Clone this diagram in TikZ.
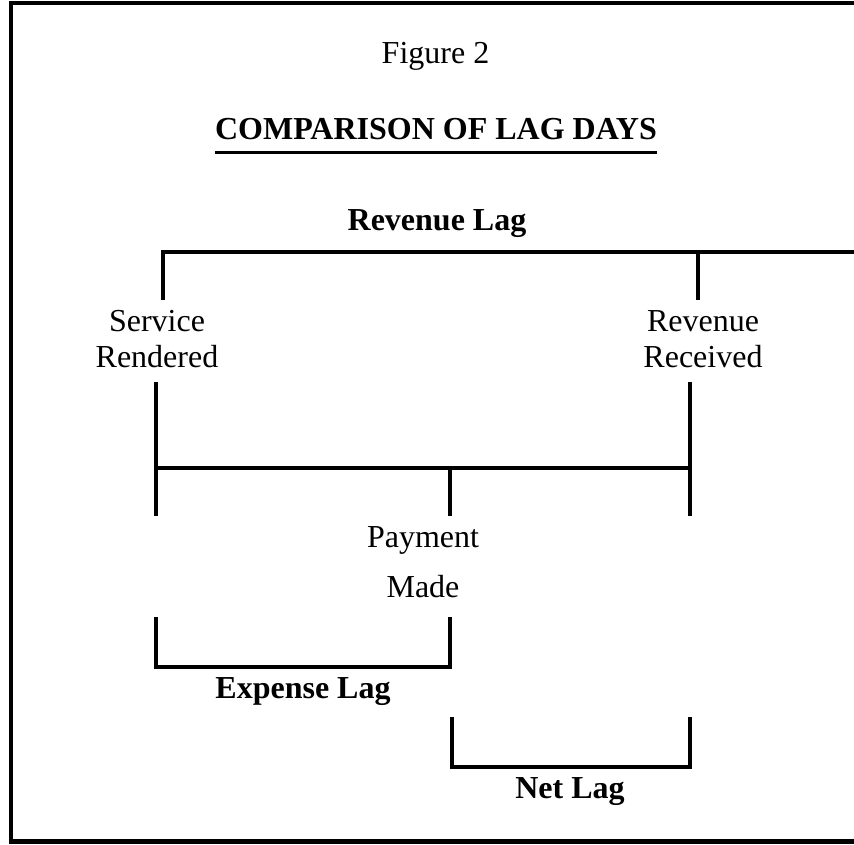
\documentclass[tikz,border=0pt]{standalone}
\usepackage{fontspec}
\setmainfont{Liberation Serif}
\usetikzlibrary{positioning}

\begin{document}
\begin{tikzpicture}[x = 1pt, y = -1pt,
    lag/.style = {line width = 4pt},
    lbl/.style = {inner sep = 0pt, anchor = base, align = center,
      font = \fontsize{32}{36}\selectfont},
    boldlbl/.style = {lbl, font = \fontsize{32}{36}\selectfont\bfseries}]
    \useasboundingbox (0,0) rectangle (854,845);
    \clip (0,0) rectangle (854,845);
    \draw [line width = 4.5pt] (11,3) rectangle (880,841.5);

    \node [lbl] (fig) at (435.5,64) {Figure 2};
    \node [boldlbl] (title) at (436,140) {COMPARISON OF LAG DAYS};
    \draw [line width = 3pt] ([yshift=-13pt]title.base west) -- ([yshift=-13pt]title.base east);
    \node [boldlbl] (revlag) at (437,230) {Revenue Lag};

    \node [lbl] (service) at (157,367) {Service\\Rendered};
    \node [lbl] (received) at (703,367) {Revenue\\Received};
    \node [lbl, font = \fontsize{32}{50}\selectfont] (payment) at (423,597) {Payment\\Made};
    \node [boldlbl] (explag) at (303,698) {Expense Lag};
    \node [boldlbl] (netlag) at (570,798) {Net Lag};

    \coordinate (rl east) at (880,251.5);
    \coordinate (rl tick) at (698,251.5);
    \coordinate (sr up) at (162.5,300);
    \coordinate (rr up) at (698,300);
    \coordinate (sr down) at (156,382);
    \coordinate (rr down) at (690,382);
    \coordinate (sr end) at (156,516);
    \coordinate (rr end) at (690,516);
    \coordinate (mid west) at (156,468);
    \coordinate (mid east) at (690,468);
    \coordinate (mid tick) at (450,468);
    \coordinate (pm up) at (450,516);
    \coordinate (pm down) at (450,617);
    \coordinate (el west) at (156,617);
    \coordinate (el corner) at (450,667);
    \coordinate (nl west) at (452,717);
    \coordinate (nl corner) at (690,767);
    \coordinate (nl east) at (690,717);

    \draw [lag] (sr up) |- (rl east);
    \draw [lag] (rl tick) -- (rr up);
    \draw [lag] (sr down) -- (sr end);
    \draw [lag] (rr down) -- (rr end);
    \draw [lag] (mid west) -- (mid east);
    \draw [lag] (mid tick) -- (pm up);
    \draw [lag] (el west) |- (el corner) -- (pm down);
    \draw [lag] (nl west) |- (nl corner) -- (nl east);
\end{tikzpicture}
\end{document}
